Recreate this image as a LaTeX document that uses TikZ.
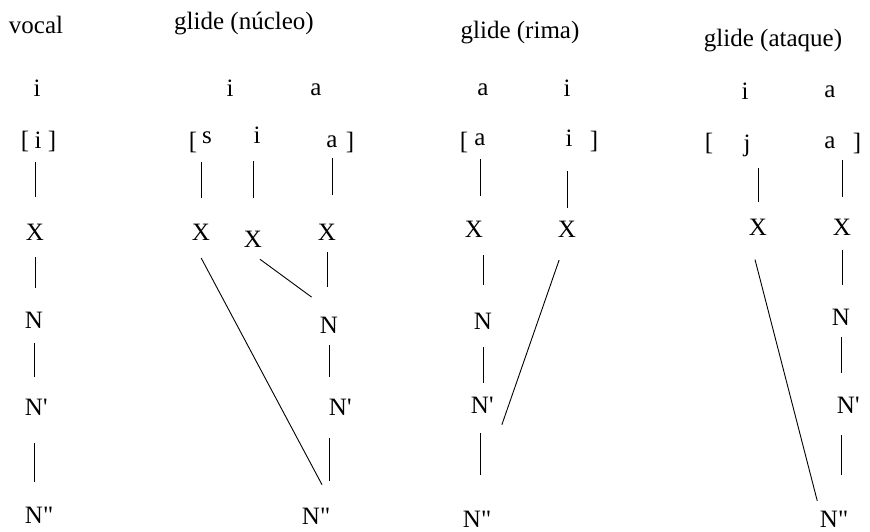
\documentclass[tikz,border=0pt]{standalone}
\usepackage{fontspec}
\setmainfont{Liberation Serif}
\usepackage{tikz}

\begin{document}
\begin{tikzpicture}[x=1pt, y=-1pt, every node/.style={font=\fontsize{25}{30}\selectfont, inner sep=0pt}, assoc/.style={line width=0.9pt, shorten <=16pt, shorten >=25pt}]
	\useasboundingbox (0,0) rectangle (870,532);
	\node (vocT) at (36,25) {vocal};
	\node (nucT) at (244,24) {glide (núcleo)};
	\node (rimT) at (520,33) {glide (rima)};
	\node (ataT) at (773,41) {glide (ataque)};
	% vocal
	\node (vocV) at (37,88) {i};
	\node (vocLB) at (25,141) {[};
	\node (vocI) at (38,140) {i};
	\node (vocRB) at (52,141) {]};
	\node (vocX) at (35,232) {X};
	\node (vocN) at (34,320) {N};
	\node (vocNp) at (34,407) {N\rlap{\textquotesingle}};
	\node (vocNpp) at (34,515) {N\rlap{\textquotedbl}};
	\draw[assoc, shorten <=14pt, shorten >=27pt] (vocX.north |- vocI.south) -- (vocX.north);
	\draw[assoc, shorten <=17pt, shorten >=24pt] (vocX.south) -- (vocX.south |- vocN.north);
	\draw[assoc, shorten <=15pt, shorten >=22pt] (vocN.south) -- (vocN.south |- vocNp.north);
	\draw[assoc, shorten <=28pt, shorten >=25pt] (vocNp.south) -- (vocNp.south |- vocNpp.north);
	% glide (nucleo)
	\node (nucV1) at (230,88) {i};
	\node (nucV2) at (316,90) {a};
	\node (nucLB) at (193,142) {[};
	\node (nucS) at (207,138) {s};
	\node (nucI) at (257,135) {i};
	\node (nucA) at (332,142) {a};
	\node (nucRB) at (350,142) {]};
	\node (nucX1) at (201,232) {X};
	\node (nucX2) at (253,239) {X};
	\node (nucX3) at (327,232) {X};
	\node (nucN) at (329,325) {N};
	\node (nucNp) at (338,407) {N\rlap{\textquotesingle}};
	\node (nucNpp) at (311,516) {N\rlap{\textquotedbl}};
	\draw[assoc, shorten <=18pt, shorten >=26pt] (nucX1.north |- nucS.south) -- (nucX1.north);
	\draw[assoc, shorten <=18pt, shorten >=33pt] (nucX2.north |- nucI.south) -- (nucX2.north);
	\draw[assoc, shorten <=10pt, shorten >=29pt] (nucA.south) -- (nucA.south |- nucX3.north);
	\draw[assoc, shorten <=12pt, shorten >=30pt] (nucX3.south) -- (nucX3.south |- nucN.north);
	\draw[assoc, shorten <=12pt, shorten >=22pt] (nucN.south) -- (nucN.south |- nucNp.north);
	\draw[assoc, shorten <=23pt, shorten >=27pt] (nucN |- nucNp.south) -- (nucN |- nucNpp.north);
	\draw[assoc, shorten <=20pt, shorten >=26pt] (nucX1.south west) -- ([xshift=14pt]nucNpp.north east);
	\draw[assoc, shorten <=20pt, shorten >=33pt] (nucX2.south west) -- (nucN.north east);
	% glide (rima)
	\node (rimV1) at (483,90) {a};
	\node (rimV2) at (567,88) {i};
	\node (rimLB) at (464,142) {[};
	\node (rimA) at (480,140) {a};
	\node (rimI) at (569,138) {i};
	\node (rimRB) at (594,141) {]};
	\node (rimX1) at (474,229) {X};
	\node (rimX2) at (567,229) {X};
	\node (rimN) at (483,321) {N};
	\node (rimNp) at (480,405) {N\rlap{\textquotesingle}};
	\node (rimNpp) at (472,519) {N\rlap{\textquotedbl}};
	\draw[assoc, shorten <=13pt, shorten >=25pt] (rimA.south) -- (rimA.south |- rimX1.north);
	\draw[assoc, shorten <=25pt, shorten >=13pt] (rimX2.north |- rimI.south) -- (rimX2.north);
	\draw[assoc, shorten <=18pt, shorten >=28pt] (rimN.north |- rimX1.south) -- (rimN.north);
	\draw[assoc, shorten <=18pt, shorten >=14pt] (rimN.south) -- (rimN.south |- rimNp.north);
	\draw[assoc, shorten <=20pt, shorten >=36pt] (rimNp.south) -- (rimNp.south |- rimNpp.north);
	\draw[assoc, shorten <=24pt, shorten >=91pt] (rimX2.south) -- (rimNpp.north);
	% glide (ataque)
	\node (ataV1) at (745,91) {i};
	\node (ataV2) at (830,92) {a};
	\node (ataLB) at (709,143) {[};
	\node (ataJ) at (747,146) {j};
	\node (ataA) at (830,143) {a};
	\node (ataRB) at (857,143) {]};
	\node (ataX1) at (758,227) {X};
	\node (ataX2) at (842,227) {X};
	\node (ataN) at (841,317) {N};
	\node (ataNp) at (846,405) {N\rlap{\textquotesingle}};
	\node (ataNpp) at (829,519) {N\rlap{\textquotedbl}};
	\draw[assoc, shorten <=11pt, shorten >=17pt] (ataX1.north |- ataJ.south) -- (ataX1.north);
	\draw[assoc, shorten <=11pt, shorten >=22pt] (ataX2.north |- ataA.south) -- (ataX2.north);
	\draw[assoc, shorten <=15pt, shorten >=24pt] (ataX2.south) -- (ataX2.south |- ataN.north);
	\draw[assoc, shorten <=12pt, shorten >=24pt] (ataN.south) -- (ataN.south |- ataNp.north);
	\draw[assoc, shorten <=22pt, shorten >=36pt] (ataN |- ataNp.south) -- (ataN |- ataNpp.north);
	\draw[assoc, shorten <=25pt, shorten >=10pt] (ataX1.south west) -- (ataNpp.north west);
\end{tikzpicture}
\end{document}
